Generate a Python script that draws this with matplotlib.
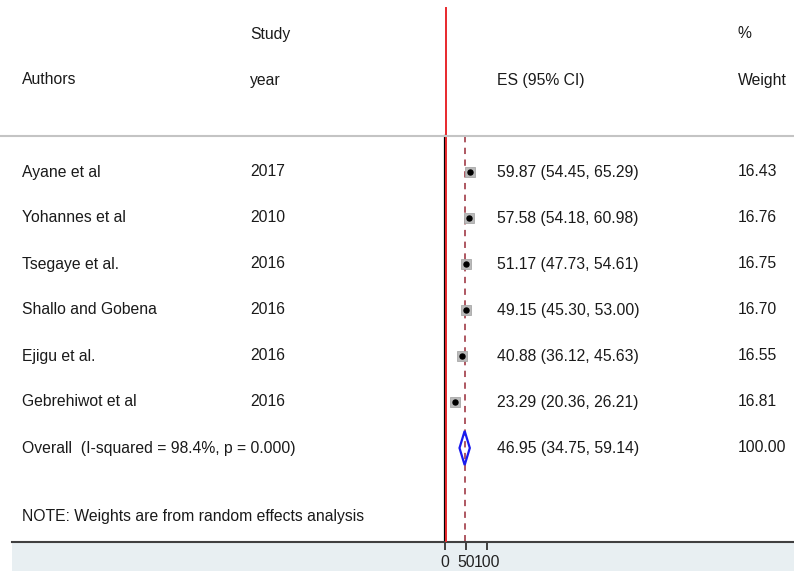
import matplotlib.pyplot as plt
import matplotlib.transforms as mtransforms
from matplotlib.patches import Polygon, Rectangle
from matplotlib.lines import Line2D

plt.rcParams['font.family'] = ['Liberation Sans', 'DejaVu Sans']

authors = ['Ayane et al', 'Yohannes et al', 'Tsegaye et al.', 'Shallo and Gobena',
           'Ejigu et al.', 'Gebrehiwot et al']
years = ['2017', '2010', '2016', '2016', '2016', '2016']
es = [59.87, 57.58, 51.17, 49.15, 40.88, 23.29]
lo = [54.45, 54.18, 47.73, 45.30, 36.12, 20.36]
hi = [65.29, 60.98, 54.61, 53.00, 45.63, 26.21]
weights = [16.43, 16.76, 16.75, 16.70, 16.55, 16.81]

overall_es, overall_lo, overall_hi = 46.95, 34.75, 59.14
overall_label = 'Overall  (I-squared = 98.4%, p = 0.000)'
note = 'NOTE: Weights are from random effects analysis'
xticks = [0, 50, 100]

W, H = 794, 571
fig = plt.figure(figsize=(W / 100, H / 100), dpi=100)
fig.patch.set_facecolor('white')

# shaded band under the axis
fig.patches.append(Rectangle((12 / W, 0), 1 - 12 / W, 29 / H, transform=fig.transFigure,
                             facecolor='#e8eff2', edgecolor='none', zorder=-5))

ax = fig.add_axes([12 / W, 29 / H, 1 - 12 / W, 1 - 29 / H])
ax.set_facecolor('none')

# effect size scale: 0 sits at x=444.8 px, 0.423 px per unit
x0, ppu = 444.8, 0.423
ax.set_xlim((12 - x0) / ppu, (W - x0) / ppu)
# rows are 46 px apart, first study at 172 px from the top
ax.set_ylim((542 - 172) / 46, -172 / 46)

for s in ['top', 'left', 'right']:
    ax.spines[s].set_visible(False)
ax.spines['bottom'].set_color('#404040')
ax.spines['bottom'].set_linewidth(1.5)
ax.set_yticks([])
ax.set_xticks(xticks)
ax.set_xticklabels([str(t) for t in xticks])
ax.tick_params(axis='x', length=6, width=1.2, color='#222222', labelsize=11.3,
               labelcolor='#222222', pad=3.5)

sep = -0.78
ybot = (542 - 172) / 46
ytop = (8 - 172) / 46

# header separator across the whole width
sep_tr = mtransforms.blended_transform_factory(fig.transFigure, ax.transData)
fig.lines.append(Line2D([0, 1], [sep, sep], transform=sep_tr, color='#c4c4c4',
                        lw=1.5, zorder=1))

# null line and overall estimate line
ax.plot([0, 0], [sep, ybot], color='black', lw=1.6, zorder=2)
red_tr = mtransforms.offset_copy(ax.transData, fig=fig, x=1.5, y=0, units='dots')
ax.plot([0, 0], [ytop, ybot], color='#e8282c', lw=1.4, transform=red_tr, zorder=3)
ax.plot([overall_es, overall_es], [sep, ybot], color='#a84a55', lw=1.3,
        dashes=(3.5, 3), zorder=2)

rows = list(range(len(es)))
wmax = max(weights)
for i in rows:
    ax.plot([lo[i], hi[i]], [i, i], color='black', lw=1, zorder=4)
    ax.plot(es[i], i, marker='s', ms=7 * (weights[i] / wmax) ** 0.5,
            color='#bababa', mec='#a8a8a8', mew=0.6, zorder=5)
    ax.plot(es[i], i, marker='o', ms=3.6, color='black', zorder=6)

orow = len(es)
h = 0.37
ax.add_patch(Polygon([(overall_lo, orow), (overall_es, orow - h), (overall_hi, orow),
                      (overall_es, orow + h)], closed=True, fill=False,
                     edgecolor='#1a1aee', lw=1.6, zorder=6))

# text columns
tr = mtransforms.blended_transform_factory(fig.transFigure, ax.transData)
cols = [22 / W, 250 / W, 497 / W, 738 / W]
kw = dict(transform=tr, va='center', ha='left', fontsize=11.3, color='#1a1a1a')

ax.text(cols[1], -3, 'Study', **kw)
ax.text(cols[3], -3, '%', **kw)
ax.text(cols[0], -2, 'Authors', **kw)
ax.text(cols[1], -2, 'year', **kw)
ax.text(cols[2], -2, 'ES (95% CI)', **kw)
ax.text(cols[3], -2, 'Weight', **kw)

for i in rows:
    ax.text(cols[0], i, authors[i], **kw)
    ax.text(cols[1], i, years[i], **kw)
    ax.text(cols[2], i, f'{es[i]:.2f} ({lo[i]:.2f}, {hi[i]:.2f})', **kw)
    ax.text(cols[3], i, f'{weights[i]:.2f}', **kw)

ax.text(cols[0], orow, overall_label, **kw)
ax.text(cols[2], orow, f'{overall_es:.2f} ({overall_lo:.2f}, {overall_hi:.2f})', **kw)
ax.text(cols[3], orow, '100.00', **kw)
ax.text(cols[0], orow + 1.5, note, **kw)

fig.savefig('out.png', dpi=100)
